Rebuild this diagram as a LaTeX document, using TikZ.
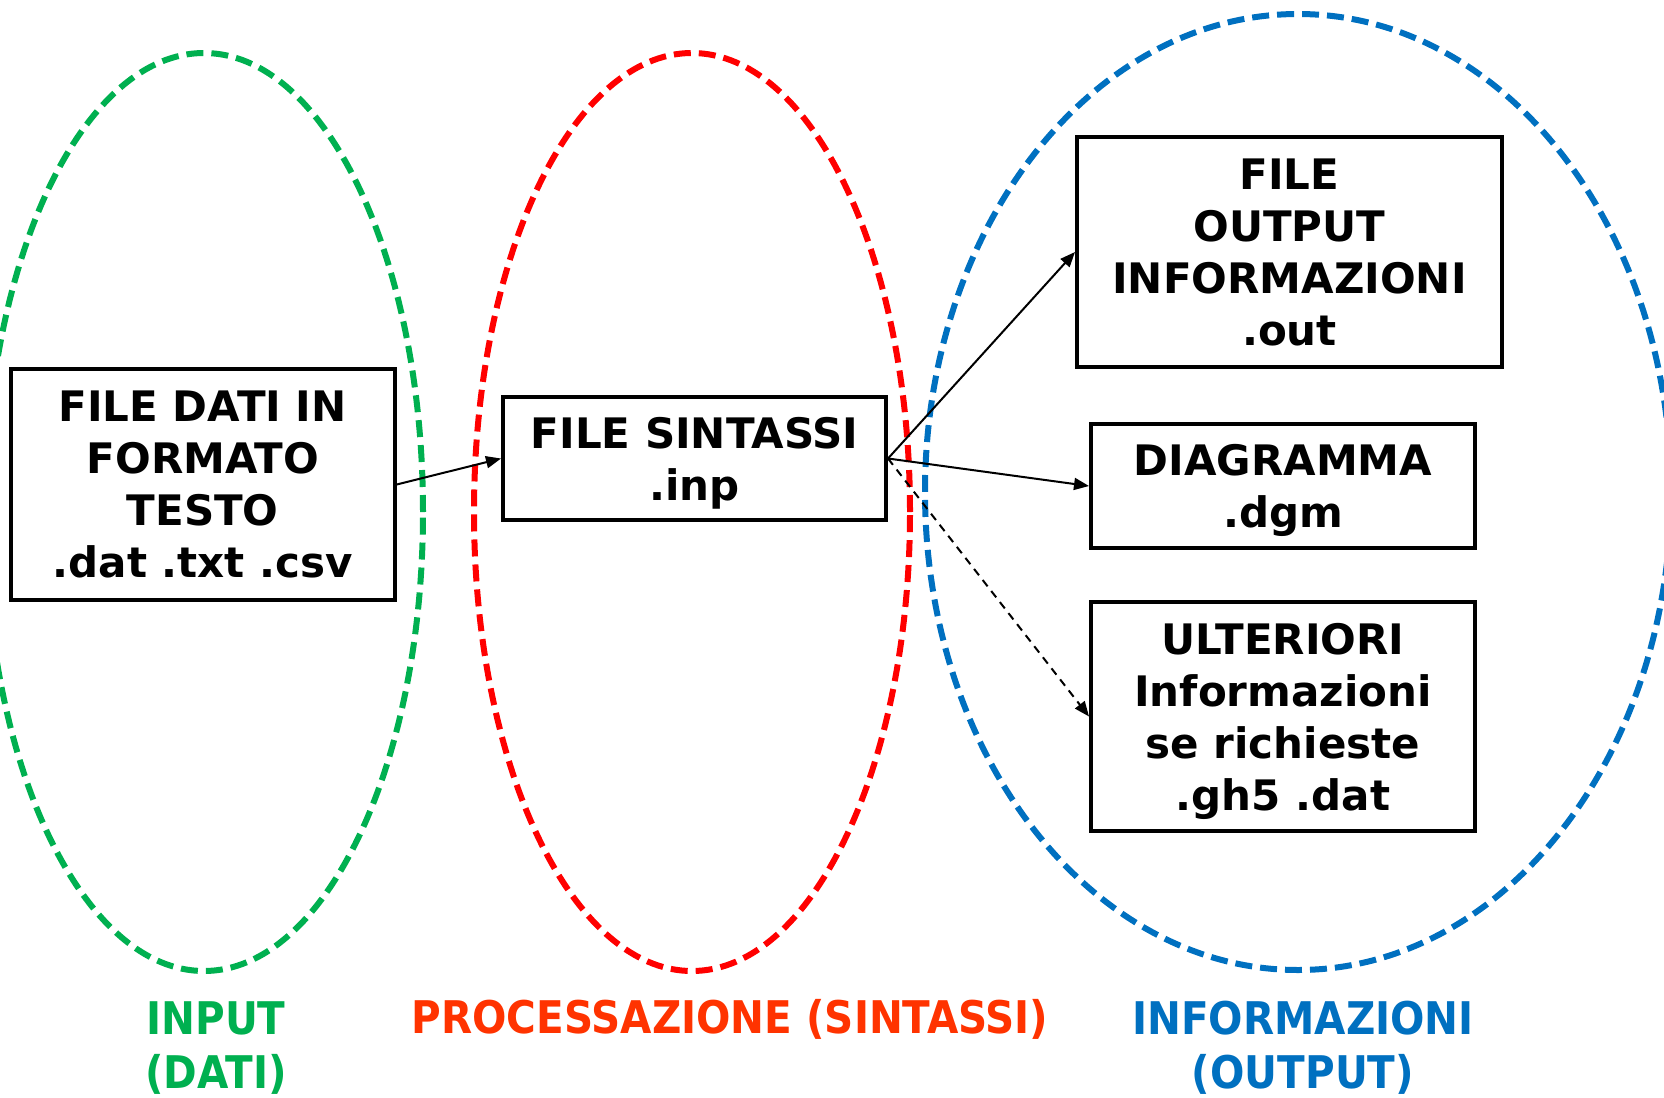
\documentclass[tikz,border=0pt]{standalone}
\usepackage{fontspec}
\setmainfont{DejaVu Sans}
\newfontfamily\condfont{DejaVu Sans Condensed}
\usetikzlibrary{arrows.meta}
\definecolor{cgreen}{RGB}{0,176,80}
\definecolor{cred}{RGB}{255,0,0}
\definecolor{cblue}{RGB}{0,112,192}
\definecolor{corange}{RGB}{255,51,0}
\begin{document}
\begin{tikzpicture}[x=1pt,y=-1pt,
  region/.style={line width=6pt, dash pattern=on 17pt off 8pt},
  filebox/.style={draw, line width=4pt, fill=white, inner sep=0pt, align=center, text depth=0pt,
    font=\fontsize{42}{52}\selectfont\bfseries},
  conn/.style={line width=2pt, -{Triangle[length=15pt,width=12pt]}},
  lbl/.style={font=\fontsize{45}{54}\selectfont\condfont\bfseries, align=center, inner sep=0pt, anchor=north}
]
\useasboundingbox (0,0) rectangle (1664,1097);
\clip (0,0) rectangle (1664,1097);
% regions
\draw[region, cgreen] (204,512) ellipse [x radius=219pt, y radius=459pt];
\draw[region, cred] (692,512) ellipse [x radius=218pt, y radius=459pt];
\draw[region, cblue] (1298,492) ellipse [x radius=373pt, y radius=478pt];
% boxes
\node[filebox, minimum width=384pt, minimum height=231pt] (dati) at (202.7,484.5)
  {FILE DATI IN\\FORMATO\\TESTO\\.dat .txt .csv};
\node[filebox, minimum width=383pt, minimum height=123pt] (sint) at (694.5,458.5)
  {FILE SINTASSI\\.inp};
\node[filebox, minimum width=425pt, minimum height=230pt] (out) at (1289.5,252)
  {FILE\\OUTPUT\\INFORMAZIONI\\.out};
\node[filebox, minimum width=384pt, minimum height=124pt] (dgm) at (1283,486)
  {DIAGRAMMA\\.dgm};
\node[filebox, minimum width=384pt, minimum height=229pt] (ult) at (1283,716.5)
  {ULTERIORI\\Informazioni\\se richieste\\.gh5 .dat};
% connectors
\draw[conn] (dati.east) -- (sint.west);
\draw[conn] (sint.east) -- (out.west);
\draw[conn] (sint.east) -- (dgm.west);
\draw[conn, dash pattern=on 8pt off 6pt] (sint.east) -- (ult.west);
% labels
\node[lbl, text=cgreen] (lin) at (216,1001) {INPUT\\(DATI)};
\node[lbl, text=corange] (lproc) at (730,999) {PROCESSAZIONE (SINTASSI)};
\node[lbl, text=cblue] (lout) at (1303,1001) {INFORMAZIONI\\(OUTPUT)};
\end{tikzpicture}
\end{document}
